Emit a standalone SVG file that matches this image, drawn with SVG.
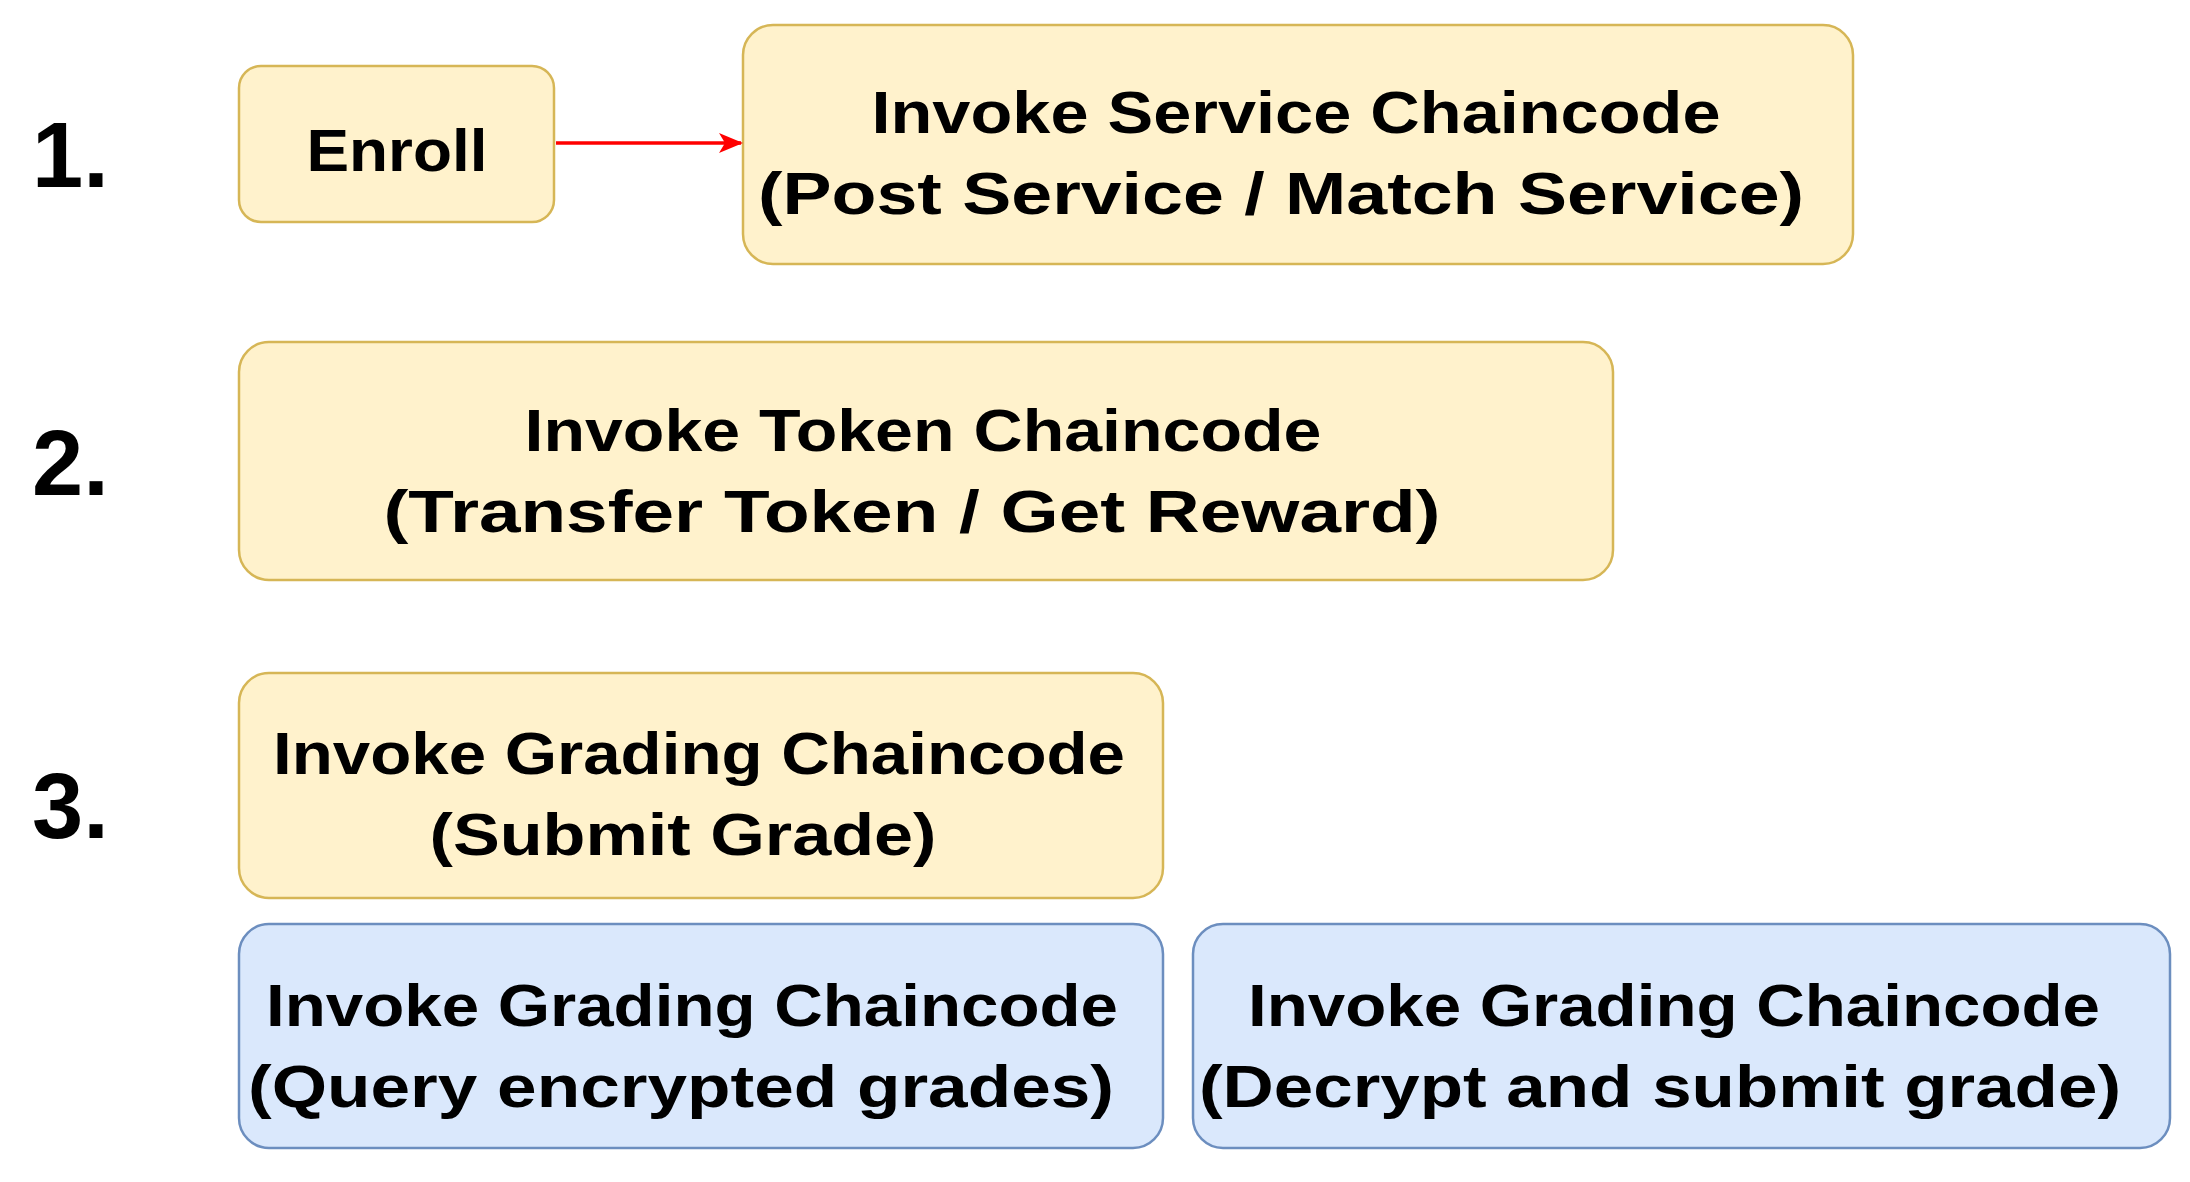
<svg xmlns="http://www.w3.org/2000/svg" width="2190" height="1182" viewBox="0 0 2190 1182">
<style>
.y{fill:#fff2cc;stroke:#d6b656;stroke-width:2.5}
.b{fill:#dae8fc;stroke:#6c8ebf;stroke-width:2.5}
text{font-family:"Liberation Sans",Arial,sans-serif;font-weight:bold;fill:#000;text-anchor:middle}
.t{font-size:60px}
.n{font-size:92px;text-anchor:start}
</style>
<defs><marker id="ah" markerWidth="24" markerHeight="24" refX="22" refY="12" orient="auto" markerUnits="userSpaceOnUse" viewBox="0 0 24 24"><path d="M0,2 L24,12 L0,22 L6,12 Z" fill="#ff0000"/></marker></defs>
<rect width="2190" height="1182" fill="#fff"/>
<text class="n" x="32" y="187">1.</text>
<text class="n" x="32" y="495">2.</text>
<text class="n" x="32" y="838">3.</text>
<g id="enroll"><rect class="y" x="239" y="66" width="315" height="156" rx="22"/><text class="t" x="397" y="171" textLength="181" lengthAdjust="spacingAndGlyphs">Enroll</text></g>
<g id="service"><rect class="y" x="743" y="25" width="1110" height="239" rx="30"/><text class="t" x="1296" y="133" textLength="849" lengthAdjust="spacingAndGlyphs">Invoke Service Chaincode</text><text class="t" x="1281" y="214" textLength="1046" lengthAdjust="spacingAndGlyphs">(Post Service / Match Service)</text></g>
<g id="token"><rect class="y" x="239" y="342" width="1374" height="238" rx="30"/><text class="t" x="923" y="451" textLength="797" lengthAdjust="spacingAndGlyphs">Invoke Token Chaincode</text><text class="t" x="912" y="532" textLength="1057" lengthAdjust="spacingAndGlyphs">(Transfer Token / Get Reward)</text></g>
<g id="submit"><rect class="y" x="239" y="673" width="924" height="225" rx="30"/><text class="t" x="699" y="774" textLength="852" lengthAdjust="spacingAndGlyphs">Invoke Grading Chaincode</text><text class="t" x="683" y="855" textLength="507" lengthAdjust="spacingAndGlyphs">(Submit Grade)</text></g>
<g id="query"><rect class="b" x="239" y="924" width="924" height="224" rx="30"/><text class="t" x="692" y="1026" textLength="852" lengthAdjust="spacingAndGlyphs">Invoke Grading Chaincode</text><text class="t" x="681" y="1107" textLength="866" lengthAdjust="spacingAndGlyphs">(Query encrypted grades)</text></g>
<g id="decrypt"><rect class="b" x="1193" y="924" width="977" height="224" rx="30"/><text class="t" x="1674" y="1026" textLength="852" lengthAdjust="spacingAndGlyphs">Invoke Grading Chaincode</text><text class="t" x="1660" y="1107" textLength="922" lengthAdjust="spacingAndGlyphs">(Decrypt and submit grade)</text></g>
<g id="connectors"><line x1="556" y1="143" x2="741" y2="143" stroke="#ff0000" stroke-width="3.5" marker-end="url(#ah)"/></g>
</svg>
